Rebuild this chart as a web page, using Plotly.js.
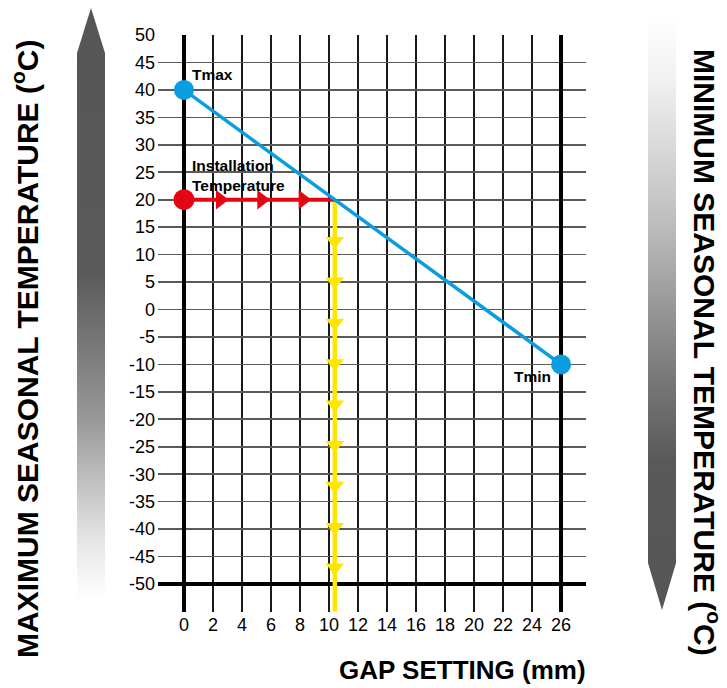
<!DOCTYPE html>
<html><head><meta charset="utf-8">
<script src="https://cdn.plot.ly/plotly-3.0.1.min.js"></script>
<style>html,body{margin:0;padding:0;background:#fff}#chart{width:727px;height:688px}</style>
</head><body><div id="chart"></div>
<script>
// ---- data ----
const gapTicks = [0,2,4,6,8,10,12,14,16,18,20,22,24,26];
const tempTicks = [-50,-45,-40,-35,-30,-25,-20,-15,-10,-5,0,5,10,15,20,25,30,35,40,45,50];
const seasonGap = [0, 26];          // Tmax at gap 0, Tmin at gap 26
const seasonTemp = [40, -10];
const installGap = [0, 10.4];        // installation temperature path
const installTemp = [20, 20];
const redArrowGap = [2.5, 5.35, 8.2];
const dropGap = [10.4, 10.4];
const dropTemp = [20, -55];
const yellowArrowTemp = [12.5, 5.1, -2.4, -9.8, -17.3, -24.7, -32.1, -39.6, -47];
const labelTexts = ['Tmax', 'Installation<br>Temperature', 'Tmin'];
const labelGap = [0.4, 0.4, 25.45];
const labelTemp = [42.8, 24.5, -12.2];

const FONT = 'Liberation Sans, Arial, Helvetica, sans-serif';
const BLUE = '#0a9de0', RED = '#e30613', YELLOW = '#ffe600';

// decorative gradient arrows (full-canvas overlay)
const svg = `<svg xmlns="http://www.w3.org/2000/svg" width="727" height="688" viewBox="0 0 727 688" preserveAspectRatio="none">
<defs>
<linearGradient id="gl" x1="0" y1="8" x2="0" y2="600" gradientUnits="userSpaceOnUse">
<stop offset="0" stop-color="#555"/><stop offset="0.45" stop-color="#5a5a5a"/><stop offset="0.7" stop-color="#9a9a9a"/><stop offset="0.9" stop-color="#e6e6e6"/><stop offset="1" stop-color="#fff"/>
</linearGradient>
<linearGradient id="gr" x1="0" y1="17" x2="0" y2="610" gradientUnits="userSpaceOnUse">
<stop offset="0" stop-color="#fff"/><stop offset="0.1" stop-color="#f2f2f2"/><stop offset="0.35" stop-color="#bdbdbd"/><stop offset="0.6" stop-color="#7a7a7a"/><stop offset="0.75" stop-color="#595959"/><stop offset="1" stop-color="#555"/>
</linearGradient>
</defs>
<polygon points="77,53 91,8 105,53 105,600 77,600" fill="url(#gl)"/>
<polygon points="648,17 676,17 676,563 662,610 648,563" fill="url(#gr)"/>
</svg>`;
const svgURI = 'data:image/svg+xml;charset=utf-8,' + encodeURIComponent(svg);

const L = 158, R = 141, T = 35, B = 76, W = 727, H = 688;
const pw = W - L - R, ph = H - T - B;
const px2x = p => (p - L) / pw;
const px2y = p => (H - B - p) / ph;

const yr = [-55.1, 50];
const xr = [-1.79, 27.72];
const xEnd = gapTicks[gapTicks.length - 1];   // heavy frame line at last gap tick
const yEnd = tempTicks[0];                    // heavy frame line at lowest temperature tick

const traces = [
  // empty helper traces so the shifted overlay axes get drawn (their zero lines are the heavy frame lines)
  {x: [null], y: [null], xaxis: 'x2', yaxis: 'y', mode: 'lines', hoverinfo: 'skip', showlegend: false},
  {x: [null], y: [null], xaxis: 'x', yaxis: 'y3', mode: 'lines', hoverinfo: 'skip', showlegend: false},
  {x: dropGap, y: dropTemp, mode: 'lines', line: {color: YELLOW, width: 4.5}, hoverinfo: 'skip'},
  {x: yellowArrowTemp.map(() => dropGap[0]), y: yellowArrowTemp, mode: 'markers',
   marker: {symbol: 'triangle-down', size: 16, color: YELLOW}, hoverinfo: 'skip'},
  {x: installGap, y: installTemp, mode: 'lines', line: {color: RED, width: 4}, hoverinfo: 'skip'},
  {x: redArrowGap, y: redArrowGap.map(() => installTemp[0]), mode: 'markers',
   marker: {symbol: 'triangle-right', size: 17, color: RED}, hoverinfo: 'skip'},
  {x: [installGap[0]], y: [installTemp[0]], mode: 'markers', marker: {size: 21, color: RED}, hoverinfo: 'skip'},
  {x: seasonGap, y: seasonTemp, mode: 'lines+markers', line: {color: BLUE, width: 3.5},
   marker: {size: 20, color: BLUE}, hoverinfo: 'skip'}
];

const layout = {
  width: W, height: H,
  margin: {l: L, r: R, t: T, b: B, pad: 0},
  paper_bgcolor: '#fff', plot_bgcolor: 'rgba(0,0,0,0)',
  showlegend: false,
  font: {family: FONT, color: '#000', size: 18},
  xaxis: {range: xr, tickmode: 'array', tickvals: gapTicks, ticktext: gapTicks.map(String),
    showgrid: true, gridcolor: '#1a1a1a', gridwidth: 1.3,
    zeroline: true, zerolinecolor: '#000', zerolinewidth: 3.5,
    ticks: '', showline: false, tickfont: {size: 18, family: FONT}, fixedrange: true},
  xaxis2: {range: [xr[0] - xEnd, xr[1] - xEnd], overlaying: 'x', anchor: 'y', side: 'bottom', showgrid: false,
    showticklabels: false, ticks: '', showline: false, zeroline: true, zerolinecolor: '#000',
    zerolinewidth: 3.5, fixedrange: true},
  yaxis: {range: yr, tickmode: 'array', tickvals: tempTicks, ticktext: tempTicks.map(String),
    showgrid: true, gridcolor: '#5a5a5a', gridwidth: 1.6, zeroline: false,
    ticks: '', showline: false, tickfont: {size: 18, family: FONT}, ticklabelstandoff: 2, fixedrange: true},
  yaxis2: {range: yr, overlaying: 'y', side: 'right', tickmode: 'array', tickvals: tempTicks,
    ticktext: tempTicks.map(String), showgrid: false, zeroline: false, ticks: '', showline: false,
    tickfont: {size: 18, family: FONT}, ticklabelstandoff: 8, fixedrange: true},
  yaxis3: {range: [yr[0] - yEnd, yr[1] - yEnd], overlaying: 'y', anchor: 'x', side: 'left', showgrid: false,
    showticklabels: false, ticks: '', showline: false, zeroline: true, zerolinecolor: '#000',
    zerolinewidth: 3.5, fixedrange: true},
  images: [{source: svgURI, xref: 'paper', yref: 'paper', x: px2x(0), y: px2y(0),
    sizex: W / pw, sizey: H / ph, xanchor: 'left', yanchor: 'top', sizing: 'stretch', layer: 'below'}],
  annotations: [
    ...labelTexts.map((t, i) => ({x: labelGap[i], y: labelTemp[i], xref: 'x', yref: 'y', text: '<b>' + t + '</b>',
      showarrow: false, xanchor: i === 2 ? 'right' : 'left', yanchor: 'middle', align: 'left',
      font: {size: 15.5, family: FONT, color: '#000'}})),
    {xref: 'paper', yref: 'paper', x: px2x(25), y: px2y(349), text: '<b>MAXIMUM SEASONAL TEMPERATURE (<sup>o</sup>C)</b>',
     textangle: -90, showarrow: false, xanchor: 'center', yanchor: 'middle', font: {size: 30, family: FONT, color: '#000'}},
    {xref: 'paper', yref: 'paper', x: px2x(707), y: px2y(352), text: '<b>MINIMUM SEASONAL TEMPERATURE (<sup>o</sup>C)</b>',
     textangle: 90, showarrow: false, xanchor: 'center', yanchor: 'middle', font: {size: 30, family: FONT, color: '#000'}},
    {xref: 'paper', yref: 'paper', x: px2x(462), y: px2y(670), text: '<b>GAP SETTING (mm)</b>',
     showarrow: false, xanchor: 'center', yanchor: 'middle', font: {size: 26, family: FONT, color: '#000'}}
  ]
};

Plotly.newPlot('chart', traces, layout, {staticPlot: true, displayModeBar: false});
</script>
</body></html>
